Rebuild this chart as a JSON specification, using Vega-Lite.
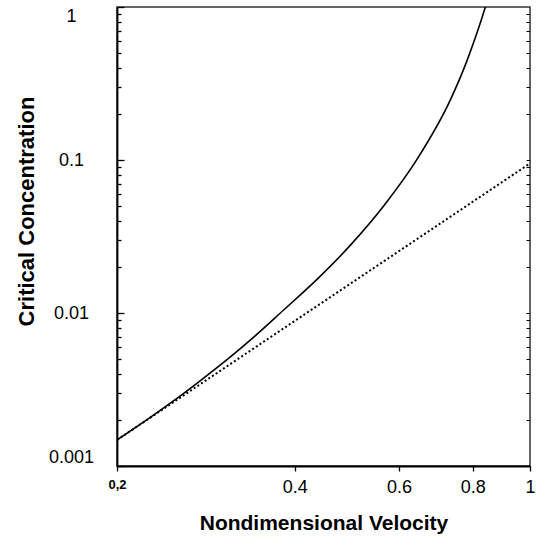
{
  "$schema": "https://vega.github.io/schema/vega-lite/v6.json",
  "width": 413,
  "height": 459,
  "autosize": {"type": "none"},
  "padding": {"left": 117, "top": 7, "right": 6, "bottom": 74},
  "background": "white",
  "config": {
    "view": {"stroke": "#333", "strokeWidth": 1.5},
    "font": "Liberation Sans",
    "axis": {"domainColor": "#000", "domainWidth": 1.8, "tickColor": "#000", "tickWidth": 1.3, "labelColor": "#000", "titleColor": "#000", "grid": false, "labelFont": "Liberation Sans", "titleFont": "Liberation Sans"}
  },
  "resolve": {"axis": {"x": "independent", "y": "independent"}},
  "layer": [
    {
      "data": {"values": [
        {"v": 0.2, "c": 0.001479},
        {"v": 0.2277, "c": 0.002078},
        {"v": 0.2594, "c": 0.002981},
        {"v": 0.2953, "c": 0.00439},
        {"v": 0.3362, "c": 0.00665},
        {"v": 0.3829, "c": 0.010462},
        {"v": 0.436, "c": 0.01658},
        {"v": 0.4963, "c": 0.02766},
        {"v": 0.5653, "c": 0.05003},
        {"v": 0.6437, "c": 0.1009},
        {"v": 0.7329, "c": 0.2463},
        {"v": 0.7821, "c": 0.4443},
        {"v": 0.8172, "c": 0.7149},
        {"v": 0.8421, "c": 1.024}
      ]},
      "mark": {"type": "line", "color": "#000", "strokeWidth": 1.6, "interpolate": "monotone", "clip": true},
      "encoding": {
        "x": {"field": "v", "type": "quantitative",
          "scale": {"type": "log", "domain": [0.2, 1], "nice": false},
          "axis": {
            "values": [0.2, 0.4, 0.6, 0.8, 1],
            "labelExpr": "datum.value == 0.2 ? '0,2' : datum.value == 1 ? '1' : format(datum.value, '.1f')",
            "labelFontSize": {"condition": {"test": "datum.value == 0.2", "value": 13}, "value": 18},
            "labelFontWeight": {"condition": {"test": "datum.value == 0.2", "value": "bold"}, "value": "normal"},
            "labelOverlap": false,
            "labelFlush": false,
            "tickSize": 5,
            "labelPadding": 7,
            "title": "Nondimensional Velocity",
            "titleFontSize": 21,
            "titleFontWeight": "bold",
            "titlePadding": 16
          }
        },
        "y": {"field": "c", "type": "quantitative",
          "scale": {"type": "log", "domain": [0.001, 1], "nice": false},
          "axis": {
            "orient": "left",
            "values": [0.001, 0.002, 0.003, 0.004, 0.005, 0.006, 0.007, 0.008, 0.009, 0.01, 0.02, 0.03, 0.04, 0.05, 0.06, 0.07, 0.08, 0.09, 0.1, 0.2, 0.3, 0.4, 0.5, 0.6, 0.7, 0.8, 0.9, 1],
            "labelExpr": "datum.value == 1 ? '1' : datum.value == 0.1 ? '0.1' : datum.value == 0.01 ? '0.01' : datum.value == 0.001 ? '0.001' : ''",
            "tickSize": {"condition": {"test": "indexof([0.001, 0.01, 0.1, 1], datum.value) >= 0", "value": -7}, "value": -4},
            "labelPadding": 53,
            "labelAlign": "center",
            "labelFontSize": 18,
            "labelOverlap": false,
            "labelFlush": true,
            "title": "Critical Concentration",
            "titleFontSize": 22,
            "titleFontWeight": "bold",
            "titleAngle": -90,
            "titleX": -84,
            "titleY": 204,
            "titleAlign": "center",
            "titleBaseline": "alphabetic"
          }
        }
      }
    },
    {
      "data": {"values": [
        {"v": 0.2, "c": 0.00148},
        {"v": 1, "c": 0.095}
      ]},
      "mark": {"type": "line", "color": "#000", "strokeWidth": 2, "strokeDash": [2, 2.4], "clip": true},
      "encoding": {
        "x": {"field": "v", "type": "quantitative",
          "scale": {"type": "log", "domain": [0.2, 1], "nice": false},
          "axis": null
        },
        "y": {"field": "c", "type": "quantitative",
          "scale": {"type": "log", "domain": [0.001, 1], "nice": false},
          "axis": {
            "orient": "right",
            "values": [0.002, 0.003, 0.004, 0.005, 0.006, 0.007, 0.008, 0.009, 0.01, 0.02, 0.03, 0.04, 0.05, 0.06, 0.07, 0.08, 0.09, 0.1, 0.2, 0.3, 0.4, 0.5, 0.6, 0.7, 0.8, 0.9],
            "labels": false,
            "domain": false,
            "tickSize": -4,
            "tickWidth": 1,
            "title": null
          }
        }
      }
    }
  ]
}
